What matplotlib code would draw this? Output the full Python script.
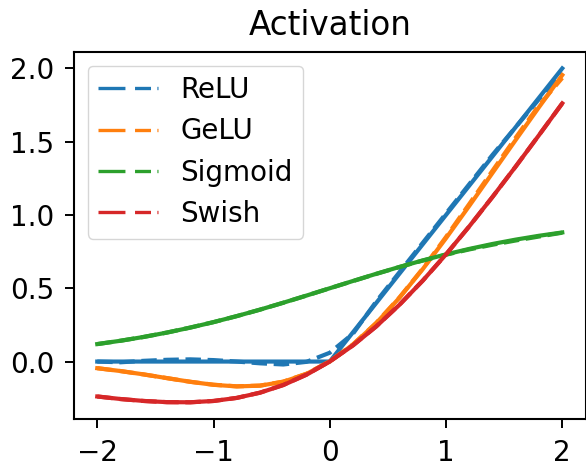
import matplotlib
matplotlib.use("Agg")
import matplotlib.pyplot as plt
from matplotlib.lines import Line2D

plt.rcParams['font.family'] = ['DejaVu Sans']
plt.rcParams['lines.scale_dashes'] = False

x = [-2.0, -1.8, -1.6, -1.4, -1.2, -1.0, -0.8, -0.6, -0.4, -0.2, 0.0,
     0.2, 0.4, 0.6, 0.8, 1.0, 1.2, 1.4, 1.6, 1.8, 2.0]

relu = [0, 0, 0, 0, 0, 0, 0, 0, 0, 0, 0,
        0.2, 0.4, 0.6, 0.8, 1.0, 1.2, 1.4, 1.6, 1.8, 2.0]
relu_approx = [0.0, -0.005, 0.005, 0.012, 0.015, 0.01, 0.0, -0.012, -0.02, -0.002, 0.06,
               0.19, 0.41, 0.61, 0.81, 1.01, 1.21, 1.41, 1.60, 1.79, 1.97]

gelu = [-0.0455, -0.0647, -0.0877, -0.1131, -0.1381, -0.1587, -0.1695, -0.1646, -0.1378, -0.0841, 0.0,
        0.1159, 0.2622, 0.4354, 0.6305, 0.8413, 1.0619, 1.2869, 1.5123, 1.7353, 1.9545]
gelu_approx = [-0.045, -0.065, -0.088, -0.113, -0.138, -0.158, -0.169, -0.164, -0.137, -0.083, 0.002,
               0.117, 0.264, 0.438, 0.634, 0.850, 1.075, 1.302, 1.528, 1.748, 1.935]

sigmoid = [0.1192, 0.1419, 0.1680, 0.1978, 0.2315, 0.2689, 0.3100, 0.3543, 0.4013, 0.4502, 0.5,
           0.5498, 0.5987, 0.6457, 0.6900, 0.7311, 0.7685, 0.8022, 0.8320, 0.8581, 0.8808]
sigmoid_approx = [0.119, 0.142, 0.168, 0.198, 0.232, 0.269, 0.310, 0.354, 0.401, 0.450, 0.500,
                  0.549, 0.598, 0.645, 0.689, 0.729, 0.765, 0.797, 0.826, 0.853, 0.879]

swish = [-0.2384, -0.2554, -0.2688, -0.2769, -0.2778, -0.2689, -0.2480, -0.2126, -0.1605, -0.0900, 0.0,
         0.1100, 0.2395, 0.3874, 0.5520, 0.7311, 0.9222, 1.1231, 1.3312, 1.5446, 1.7616]
swish_approx = [-0.238, -0.256, -0.269, -0.277, -0.278, -0.269, -0.248, -0.212, -0.160, -0.089, 0.001,
                0.111, 0.240, 0.388, 0.552, 0.731, 0.922, 1.123, 1.331, 1.545, 1.761]

names = ['ReLU', 'GeLU', 'Sigmoid', 'Swish']
colors = ['#1f77b4', '#ff7f0e', '#2ca02c', '#d62728']
exact = [relu, gelu, sigmoid, swish]
approx = [relu_approx, gelu_approx, sigmoid_approx, swish_approx]

fig = plt.figure(figsize=(5.86, 4.68), dpi=100)
ax = fig.add_axes([74 / 586, 49 / 468, 511.5 / 586, 367.3 / 468])

for e, a, c in zip(exact, approx, colors):
    ax.plot(x, e, color=c, lw=3.0, solid_capstyle='projecting')
    ax.plot(x, a, color=c, lw=3.0, linestyle=(0, (11.1, 4.8)))

ax.set_xticks([-2, -1, 0, 1, 2])
ax.set_yticks([0.0, 0.5, 1.0, 1.5, 2.0])
ax.set_yticklabels(['0.0', '0.5', '1.0', '1.5', '2.0'])
ax.set_xticklabels(['\u22122', '\u22121', '0', '1', '2'])
ax.tick_params(labelsize=20, length=6.2, width=1.4, pad=8.0)
for s in ax.spines.values():
    s.set_linewidth(1.5)
ax.set_title('Activation', fontsize=23.5, pad=12)

handles = [Line2D([], [], color=c, lw=2.4, linestyle=(0, (19.4, 6.9, 11.5, 4.6)))
           for c in colors]
leg = ax.legend(handles, names, loc='upper left', fontsize=20, handlelength=2.15,
                handletextpad=0.8, labelspacing=0.48, borderpad=0.38, borderaxespad=0.5,
                fancybox=True, framealpha=0.8)

fig.savefig('out.png', dpi=100)
